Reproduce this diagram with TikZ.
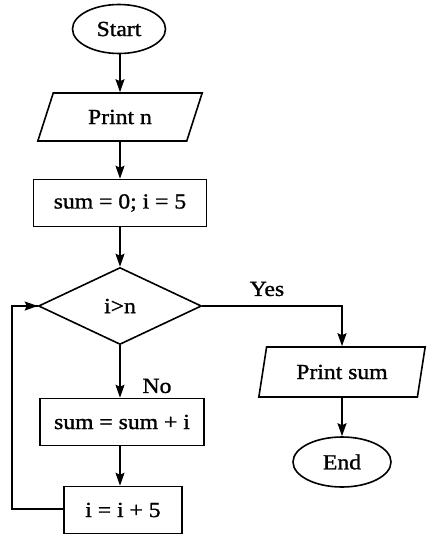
\documentclass[tikz,border=0pt]{standalone}
\usepackage{fontspec}
\setmainfont[FakeStretch=1.1,FakeBold=1.2]{Liberation Serif}
\usetikzlibrary{shapes.geometric,arrows.meta}
\begin{document}
\begin{tikzpicture}[x=1pt,y=-1pt,
  every node/.style={font=\fontsize{21.5}{24}\selectfont, inner sep=0pt},
  box/.style={draw, line width=1.6pt, rectangle, minimum width=#1, minimum height=47pt},
  term/.style={draw, line width=1.6pt, ellipse, minimum height=49pt, minimum width=#1},
  io/.style={draw, line width=1.6pt, trapezium, trapezium stretches=true, minimum height=48pt, minimum width=#1},
  dec/.style={draw, line width=1.6pt, diamond, minimum width=163pt, minimum height=77pt, aspect=2.1},
  arr/.style={line width=1.6pt, -{Stealth[length=13pt,width=9pt,inset=2pt]}},
  ln/.style={line width=1.6pt}]
\useasboundingbox (0,0) rectangle (435,544);
\node[term=93pt] (start) at (119,29) {Start};
\node[io=165pt, trapezium left angle=63, trapezium right angle=117] (printn) at (120,117) {Print n};
\node[box=173pt] (init) at (120,203) {sum = 0; i = 5};
\node[dec] (cond) at (120,306) {i>n};
\node[box=164pt] (acc) at (122,422) {sum = sum + i};
\node[box=118pt] (inc) at (123,510) {i = i + 5};
\node[io=167pt, minimum height=50pt, trapezium left angle=72, trapezium right angle=108] (psum) at (342,372) {Print sum};
\node[term=98pt, minimum height=50pt] (end) at (342,462) {End};
\node (yes) at (267,289) {Yes};
\node (no) at (157,386) {No};
\coordinate (lp) at (12,509);
\draw[arr] (start.south) -- (printn.south |- start.south) -- (printn.north);
\draw[arr] (printn.south) -- (init.north);
\draw[arr] (init.south) -- (cond.north);
\draw[arr] (cond.south) -- (cond.south |- acc.north);
\draw[arr] (cond.south |- acc.south) -- (cond.south |- inc.north);
\draw[arr] (cond.east) -| (psum.north);
\draw[arr] (psum.south) -- (end.north);
\draw[ln] (inc.west |- lp) -- (lp) |- (cond.west);
\draw[arr] (lp |- cond.west) -- (cond.west);
\end{tikzpicture}
\end{document}
